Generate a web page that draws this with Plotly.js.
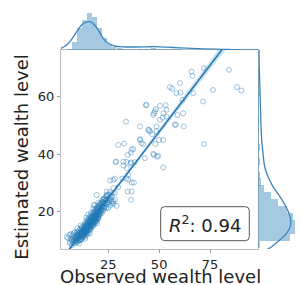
<!DOCTYPE html>
<html>
<head>
<meta charset="utf-8">
<script src="https://cdn.plot.ly/plotly-3.0.1.min.js"></script>
<style>html,body{margin:0;padding:0;background:#fff}#chart{width:302px;height:285px}</style>
</head>
<body>
<div id="chart"></div>
<script>
// ---------- data ----------
// scatter: observed (x) vs estimated (y) wealth level
const obsX = [
4.5,5.2,5.8,6.3,6.8,7.1,7.4,7.8,8.0,8.3,8.6,8.9,
9.1,9.3,9.5,9.7,9.9,10.1,10.2,10.4,10.5,10.7,10.9,11.0,11.2,11.3,11.5,11.6,11.8,11.9,12.0,12.1,12.2,12.4,12.5,12.6,12.7,12.8,12.9,9.8,10.6,11.4,
13.0,13.1,13.2,13.3,13.4,13.5,13.6,13.7,13.8,13.9,14.0,14.1,14.2,14.3,14.4,14.5,14.6,14.7,14.8,14.9,15.0,15.1,15.2,15.3,15.4,15.5,15.6,15.7,15.8,15.9,16.0,16.1,16.2,16.3,16.4,16.5,16.6,16.7,16.8,16.9,13.6,14.2,15.0,16.0,16.5,
17.0,17.1,17.2,17.3,17.4,17.5,17.6,17.7,17.8,17.9,18.0,18.1,18.2,18.3,18.4,18.5,18.6,18.7,18.8,18.9,19.0,19.1,19.2,19.3,19.4,19.5,19.6,19.7,19.8,19.9,20.0,20.1,20.2,20.3,20.4,20.5,17.5,18.5,19.5,20.0,
20.7,20.9,21.1,21.3,21.5,21.7,21.9,22.1,22.3,22.5,22.7,22.9,23.1,23.3,23.6,23.9,24.2,24.5,24.8,25.1,25.5,25.9,26.3,26.7,27.2,
6.0,6.6,7.0,7.5,7.9,8.2,8.5,8.8,
9.0,9.2,9.4,9.6,9.8,10.0,10.3,10.5,10.8,11.0,11.1,11.3,11.5,11.7,11.9,12.1,12.3,12.4,12.6,12.8,12.9,
13.0,13.1,13.3,13.4,13.5,13.7,13.8,14.0,14.1,14.3,14.4,14.6,14.7,14.9,15.0,15.1,15.3,15.4,15.5,15.7,15.8,16.0,16.1,16.2,16.4,16.5,16.6,16.8,16.9,
17.0,17.2,17.3,17.4,17.6,17.7,17.8,18.0,18.1,18.2,18.4,18.5,18.6,18.8,18.9,19.0,19.2,19.3,19.4,19.6,19.7,19.9,20.1,20.2,20.3,20.5,20.6,20.8,21.0,21.2,21.4,21.6,21.8,22.0,22.2,22.4,22.6,22.8,23.0,23.4,23.8,24.0,24.4,24.7,25.3,25.8,26.2,
19.3,22.6,26.7,27.5,29.1,25.0,21.0,17.7,24.2,27.5,28.3,26.7,24.2,28.3,27.5,29.9,34.5,36.5,36.2,25.9,28.3,31.9,34.9,36.5,37.6,27.5,34.0,34.8,
28.6,33.9,36.3,38.0,32.4,34.1,52.0,28.8,32.4,36.0,
37.3,36.2,34.5,47.1,49.0,43.0,47.4,49.5,36.5,
29.9,32.8,41.4,42.2,40.6,50.0,52.0,48.1,40.6,72.1,
45.0,45.5,46.6,48.6,44.6,40.6,48.7,62.1,57.7,58.2,33.7,50.4,
51.7,53.6,59.0,47.1,52.1,61.8,47.4,48.3,53.6,47.9,
43.4,50.4,53.2,43.8,61.5,71.6,
58.5,66.7,60.5,76.5,55.3,56.4,60.2,88.3,90.4,
65.9,66.4,71.9,84.3
];
const estY = [
11.2,10.8,11.9,9.6,10.5,8.4,11.8,9.9,12.5,8.9,10.8,11.6,
9.5,12.1,10.4,13.0,11.2,9.8,12.4,10.9,13.5,11.6,10.2,12.8,14.1,11.0,12.2,10.6,13.3,11.8,14.6,12.5,10.9,13.8,11.4,12.9,15.0,12.1,13.5,14.2,8.9,15.2,
11.8,14.3,12.7,15.6,13.2,11.2,14.8,12.4,16.1,13.7,15.2,12.9,14.0,16.8,13.4,11.9,15.5,14.4,17.2,13.1,15.9,14.6,12.6,16.5,15.0,17.8,13.9,16.2,14.8,18.3,15.4,13.6,16.9,15.1,17.5,14.2,16.0,18.7,15.7,17.1,10.5,18.0,19.0,12.4,19.6,
16.4,14.9,18.2,16.8,19.4,15.6,17.7,16.1,19.9,17.3,18.6,15.8,17.0,20.3,18.0,16.5,19.1,17.6,21.0,18.4,16.9,19.8,18.1,20.6,17.4,19.3,21.5,18.8,20.1,17.9,22.0,19.5,18.3,20.9,21.8,19.0,21.0,22.3,15.9,23.1,
20.4,22.5,19.7,21.2,23.0,20.6,22.0,24.1,21.5,23.3,20.9,22.7,24.6,21.8,23.8,25.2,22.6,24.4,26.0,23.2,24.9,22.1,25.8,23.6,26.5,
9.0,12.2,10.1,9.3,11.0,10.2,12.8,9.7,
11.0,10.1,11.6,9.2,10.7,12.0,11.5,10.0,12.3,11.4,9.9,13.1,11.7,12.6,10.3,13.3,12.0,11.2,14.0,13.0,11.6,
13.6,12.2,14.5,12.9,15.0,13.9,12.3,14.6,13.5,15.2,12.6,14.1,16.0,14.9,13.4,15.6,14.3,16.8,15.3,13.8,16.4,15.0,17.3,14.6,16.2,15.4,17.9,16.6,14.8,
17.5,15.9,18.0,16.9,18.6,15.2,17.2,19.3,16.7,18.5,17.3,19.6,16.2,18.9,17.7,20.2,16.6,19.0,18.6,20.8,17.5,19.6,21.2,17.6,19.9,22.4,18.7,21.0,19.9,22.8,20.3,21.7,19.5,23.4,22.1,20.3,22.9,24.5,21.4,23.0,24.0,21.2,25.5,23.1,24.0,26.8,24.2,
25.8,24.1,25.2,22.7,22.0,21.2,19.4,22.3,25.8,23.5,24.1,22.9,27.0,26.5,28.2,28.5,27.0,27.0,24.1,30.8,31.5,31.5,31.1,30.1,30.1,31.0,31.6,32.8,
37.2,37.3,37.1,37.2,36.0,35.1,35.4,37.4,37.4,36.8,
41.8,40.5,39.7,40.1,39.1,38.6,39.7,39.4,41.5,
43.2,43.7,43.8,43.4,45.2,44.9,44.9,43.5,44.9,43.5,
48.4,47.9,46.9,48.0,48.4,49.6,49.6,49.6,50.2,50.2,51.3,51.9,
52.7,53.0,53.6,53.6,54.2,54.2,54.2,55.6,55.4,54.8,
57.0,56.8,57.0,57.1,58.9,58.3,
61.2,61.2,61.4,62.3,63.3,62.8,64.7,63.3,62.1,
68.7,67.2,69.9,69.3
];
// fitted regression line
const fitSlope = 0.925;
const fitIntercept = 1.5;
// top marginal: histogram of observed level (relative density) and its KDE
const topBinCenters = [5.8,8.3,10.7,13.1,15.6,18.0,20.5,22.9,25.4,27.8,30.3,32.7,35.2,37.6,40.1,42.5,45.0,47.4,49.9,52.3,54.8,57.2,59.7,62.1,64.6,67.0,69.5,71.9,74.4,76.8,84.1,88.9];
const topBinDensity = [1.5,8.3,22,30,37,33,22,12,6,3,2,1.5,1.5,1.2,1.0,1.2,1.5,1.8,1.2,0.8,1.0,0.8,0.6,0.5,0.4,0.3,0.2,0.4,0.2,0.2,0.2,0.3];
const topKdeX = [1.75,3.5,5,7,9.5,11.9,14,16,18,20.1,22.5,25,28,32,38,44,48,54,60,66,72,78,84,90,98.6];
const topKdeDensity = [1.7,3.5,6,10.7,18.3,25,27.8,28.3,25.5,20,11.7,6.7,4,3.2,3.0,3.2,3.3,2.8,2.2,1.7,1.2,0.8,0.5,0.2,0];
// right marginal: histogram of estimated level (relative density) and its KDE
const rightBinCenters = [8.7,11.1,13.5,15.9,18.3,20.7,23.1,25.5,27.9,30.3,32.7,35.1,37.5,39.9,42.3,44.7,47.1,49.5,51.9,54.3,56.7,59.1,61.5,63.9,66.3,68.7];
const rightBinDensity = [2,32,37,37,35,29,20,13,6,3,1.5,1.2,1.5,1.2,1.5,1.2,1.0,1.0,1.2,0.8,0.8,1.0,2.0,1.0,0.6,0.6];
const rightKdeY = [5.5,6.7,7.8,10.2,12.5,15.4,18.3,21.7,25.2,28.7,32.2,35.6,40.3,45,52,62,70,76.2];
const rightKdeDensity = [4,8.7,13.7,22,28.7,32.7,32,28,22,15,10,6.7,5,3.7,2.8,2,1.3,1];
const xTicks = [25, 50, 75];
const yTicks = [20, 40, 60];
const r2Label = '<i>R</i><sup>2</sup>: 0.94';
const xTitle = 'Observed wealth level';
const yTitle = 'Estimated wealth level';

// ---------- chart ----------
const xRange = [1.75, 98.6];
const yRange = [7.0, 76.2];
const blue = '#1f77b4';
const binW = 2.45;

function mean(a){return a.reduce((s,v)=>s+v,0)/a.length;}
const n = obsX.length, mx = mean(obsX);
let sxx = 0, sse = 0;
for (let i=0;i<n;i++){ sxx += (obsX[i]-mx)**2; sse += (estY[i]-(fitIntercept+fitSlope*obsX[i]))**2; }
const s = Math.sqrt(sse/(n-2));
const fx=[], fy=[], lo=[], hi=[];
for (let i=0;i<=100;i++){
  const x = xRange[0] + (xRange[1]-xRange[0])*i/100;
  const y = fitIntercept + fitSlope*x;
  const se = s*Math.sqrt(1/n + (x-mx)**2/sxx);
  fx.push(x); fy.push(y); lo.push(y-1.97*se); hi.push(y+1.97*se);
}

const traces = [
  {x: obsX, y: estY, type:'scatter', mode:'markers', xaxis:'x', yaxis:'y',
   marker:{symbol:'circle-open', size:5, color:'rgba(31,119,180,0.42)', line:{width:1}}},
  {x: fx, y: lo, type:'scatter', mode:'lines', line:{width:0}, xaxis:'x', yaxis:'y'},
  {x: fx, y: hi, type:'scatter', mode:'lines', line:{width:0}, fill:'tonexty', fillcolor:'rgba(31,119,180,0.22)', xaxis:'x', yaxis:'y'},
  {x: fx, y: fy, type:'scatter', mode:'lines', line:{color:blue, width:1.5}, xaxis:'x', yaxis:'y'},
  {x: topBinCenters, y: topBinDensity, type:'bar', width: binW, xaxis:'x2', yaxis:'y2',
   marker:{color:'rgba(31,119,180,0.4)', line:{width:0}}},
  {x: topKdeX, y: topKdeDensity, type:'scatter', mode:'lines', line:{color:'#3a85bd', width:1.3, shape:'spline'}, xaxis:'x2', yaxis:'y2'},
  {y: rightBinCenters, x: rightBinDensity, type:'bar', orientation:'h', width: binW, xaxis:'x3', yaxis:'y3',
   marker:{color:'rgba(31,119,180,0.4)', line:{width:0}}},
  {x: rightKdeDensity, y: rightKdeY, type:'scatter', mode:'lines', line:{color:'#3a85bd', width:1.3, shape:'spline'}, xaxis:'x3', yaxis:'y3'}
];

const W=302, H=285;
const px = v => v/W, py = v => (H-v)/H;
const axisCommon = {showgrid:false, zeroline:false, showline:true, linecolor:'#bdbdbd', linewidth:1, mirror:true,
  ticks:'outside', ticklen:3, tickcolor:'#9a9a9a', tickwidth:1,
  tickfont:{family:'DejaVu Sans', size:13, color:'#222'}};
const hidden = {showgrid:false, zeroline:false, showline:false, showticklabels:false, ticks:''};

const bx0=px(160.7), bx1=px(249.3), by0=py(240.7), by1=py(206.7), rx=4/W, ry=4/H;
const boxPath = `M ${bx0+rx} ${by0} L ${bx1-rx} ${by0} Q ${bx1} ${by0} ${bx1} ${by0+ry} L ${bx1} ${by1-ry} Q ${bx1} ${by1} ${bx1-rx} ${by1} L ${bx0+rx} ${by1} Q ${bx0} ${by1} ${bx0} ${by1-ry} L ${bx0} ${by0+ry} Q ${bx0} ${by0} ${bx0+rx} ${by0} Z`;

const layout = {
  width: W, height: H, margin:{l:0,r:0,t:0,b:0}, showlegend:false, bargap:0,
  paper_bgcolor:'#fff', plot_bgcolor:'rgba(0,0,0,0)',
  xaxis: Object.assign({}, axisCommon, {domain:[px(61), px(258)], range:xRange, tickvals:xTicks, anchor:'y'}),
  yaxis: Object.assign({}, axisCommon, {domain:[py(249), py(50)], range:yRange, tickvals:yTicks, anchor:'x'}),
  xaxis2: Object.assign({}, hidden, {domain:[px(61), px(258)], range:xRange, anchor:'y2'}),
  yaxis2: Object.assign({}, hidden, {domain:[py(50), py(10.7)], range:[0, 39.3], anchor:'x2'}),
  xaxis3: Object.assign({}, hidden, {domain:[px(258), px(295)], range:[0, 37], anchor:'y3'}),
  yaxis3: Object.assign({}, hidden, {domain:[py(249), py(50)], range:yRange, anchor:'x3'}),
  shapes: [
    {type:'path', xref:'paper', yref:'paper', path: boxPath, line:{color:'#555', width:1}, fillcolor:'rgba(255,255,255,0.85)', layer:'above'}
  ],
  annotations: [
    {xref:'paper', yref:'paper', x:(bx0+bx1)/2, y:(by0+by1)/2, xanchor:'center', yanchor:'middle', showarrow:false,
     text:r2Label, font:{family:'DejaVu Sans', size:18, color:'#222'}},
    {xref:'paper', yref:'paper', x:px(160), y:py(276.5), xanchor:'center', yanchor:'middle', showarrow:false, borderpad:0,
     text:xTitle, font:{family:'DejaVu Sans', size:18, color:'#222'}},
    {xref:'paper', yref:'paper', x:px(21.7), y:py(157), xanchor:'center', yanchor:'middle', showarrow:false, textangle:-90, borderpad:0,
     text:yTitle, font:{family:'DejaVu Sans', size:18, color:'#222'}}
  ]
};
Plotly.newPlot('chart', traces, layout, {staticPlot:true, displayModeBar:false});
</script>
</body>
</html>
